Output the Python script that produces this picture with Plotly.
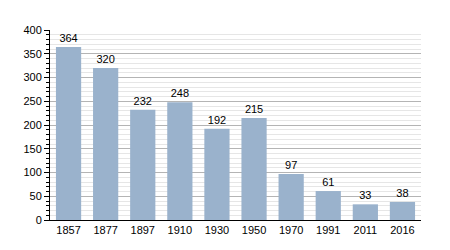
import plotly.graph_objects as go

years = ["1857", "1877", "1897", "1910", "1930", "1950", "1970", "1991", "2011", "2016"]
population = [364, 320, 232, 248, 192, 215, 97, 61, 33, 38]
y_ticks = [0, 50, 100, 150, 200, 250, 300, 350, 400]

fig = go.Figure(go.Bar(
    x=years, y=population, width=0.68,
    marker=dict(color="#9ab2cc", line=dict(width=0)),
    text=[str(v) for v in population], textposition="outside",
    textfont=dict(family="Liberation Sans, Arial", size=11, color="#000"),
    cliponaxis=False,
))
fig.update_layout(
    width=450, height=250,
    margin=dict(l=50, r=29, t=30, b=30),
    plot_bgcolor="white", paper_bgcolor="white",
    showlegend=False,
    font=dict(family="Liberation Sans, Arial", size=11, color="#000"),
    bargap=0.32,
)
fig.update_xaxes(
    type="category", showline=True, linecolor="#000", linewidth=1,
    ticks="", showgrid=False, tickfont=dict(size=11),
)
fig.update_yaxes(
    range=[0, 400], tickvals=y_ticks, showline=True, linecolor="#000", linewidth=1,
    ticks="outside", ticklen=5, tickcolor="#000", tickwidth=1,
    showgrid=True, gridcolor="#b4b4b4", gridwidth=1, zeroline=False,
    minor=dict(dtick=10, ticks="outside", ticklen=3, tickcolor="#000",
               showgrid=True, gridcolor="#e6e6e6", gridwidth=1),
    tickfont=dict(size=11),
)
fig.write_html("out.html")
